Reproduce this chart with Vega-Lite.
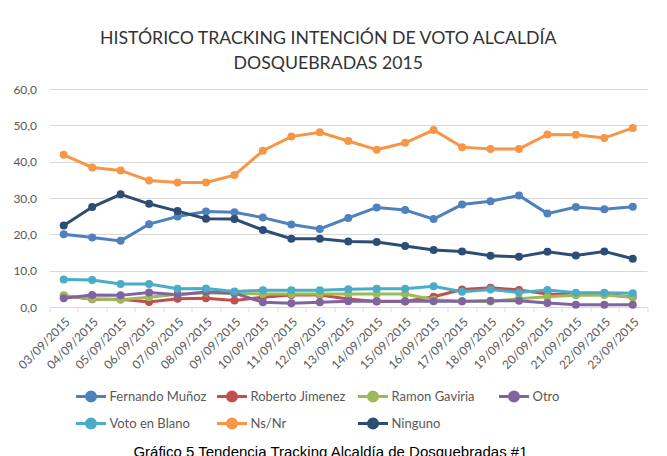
{
  "$schema": "https://vega.github.io/schema/vega-lite/v6.json",
  "padding": {"left": 12.5, "top": 30, "right": 5, "bottom": 0},
  "background": "white",
  "title": {
    "text": "Gráfico 5 Tendencia Tracking Alcaldía de Dosquebradas #1",
    "orient": "bottom",
    "anchor": "middle",
    "font": "Liberation Sans",
    "fontSize": 15,
    "fontWeight": "normal",
    "color": "#000000",
    "offset": 11
  },
  "vconcat": [
    {
      "title": {
        "text": ["HISTÓRICO TRACKING INTENCIÓN DE VOTO ALCALDÍA", "DOSQUEBRADAS 2015"],
        "anchor": "middle",
        "frame": "group",
        "dx": -20,
        "font": "Lato",
        "fontSize": 17.7,
        "fontWeight": "normal",
        "color": "#333333",
        "lineHeight": 25,
        "offset": 10
      },
      "width": 597.5,
      "height": 218,
      "data": {
        "values": [
          {"fecha": "03/09/2015", "serie": "Fernando Muñoz", "valor": 20.0},
          {"fecha": "04/09/2015", "serie": "Fernando Muñoz", "valor": 19.1},
          {"fecha": "05/09/2015", "serie": "Fernando Muñoz", "valor": 18.2},
          {"fecha": "06/09/2015", "serie": "Fernando Muñoz", "valor": 22.8},
          {"fecha": "07/09/2015", "serie": "Fernando Muñoz", "valor": 24.9},
          {"fecha": "08/09/2015", "serie": "Fernando Muñoz", "valor": 26.3},
          {"fecha": "09/09/2015", "serie": "Fernando Muñoz", "valor": 26.1},
          {"fecha": "10/09/2015", "serie": "Fernando Muñoz", "valor": 24.6},
          {"fecha": "11/09/2015", "serie": "Fernando Muñoz", "valor": 22.7},
          {"fecha": "12/09/2015", "serie": "Fernando Muñoz", "valor": 21.5},
          {"fecha": "13/09/2015", "serie": "Fernando Muñoz", "valor": 24.5},
          {"fecha": "14/09/2015", "serie": "Fernando Muñoz", "valor": 27.4},
          {"fecha": "15/09/2015", "serie": "Fernando Muñoz", "valor": 26.7},
          {"fecha": "16/09/2015", "serie": "Fernando Muñoz", "valor": 24.2},
          {"fecha": "17/09/2015", "serie": "Fernando Muñoz", "valor": 28.2},
          {"fecha": "18/09/2015", "serie": "Fernando Muñoz", "valor": 29.1},
          {"fecha": "19/09/2015", "serie": "Fernando Muñoz", "valor": 30.7},
          {"fecha": "20/09/2015", "serie": "Fernando Muñoz", "valor": 25.7},
          {"fecha": "21/09/2015", "serie": "Fernando Muñoz", "valor": 27.5},
          {"fecha": "22/09/2015", "serie": "Fernando Muñoz", "valor": 26.9},
          {"fecha": "23/09/2015", "serie": "Fernando Muñoz", "valor": 27.6},
          {"fecha": "03/09/2015", "serie": "Roberto Jimenez", "valor": 3.1},
          {"fecha": "04/09/2015", "serie": "Roberto Jimenez", "valor": 2.1},
          {"fecha": "05/09/2015", "serie": "Roberto Jimenez", "valor": 2.1},
          {"fecha": "06/09/2015", "serie": "Roberto Jimenez", "valor": 1.4},
          {"fecha": "07/09/2015", "serie": "Roberto Jimenez", "valor": 2.3},
          {"fecha": "08/09/2015", "serie": "Roberto Jimenez", "valor": 2.4},
          {"fecha": "09/09/2015", "serie": "Roberto Jimenez", "valor": 1.8},
          {"fecha": "10/09/2015", "serie": "Roberto Jimenez", "valor": 2.7},
          {"fecha": "11/09/2015", "serie": "Roberto Jimenez", "valor": 3.3},
          {"fecha": "12/09/2015", "serie": "Roberto Jimenez", "valor": 3.3},
          {"fecha": "13/09/2015", "serie": "Roberto Jimenez", "valor": 2.2},
          {"fecha": "14/09/2015", "serie": "Roberto Jimenez", "valor": 1.5},
          {"fecha": "15/09/2015", "serie": "Roberto Jimenez", "valor": 1.5},
          {"fecha": "16/09/2015", "serie": "Roberto Jimenez", "valor": 2.8},
          {"fecha": "17/09/2015", "serie": "Roberto Jimenez", "valor": 4.8},
          {"fecha": "18/09/2015", "serie": "Roberto Jimenez", "valor": 5.3},
          {"fecha": "19/09/2015", "serie": "Roberto Jimenez", "valor": 4.7},
          {"fecha": "20/09/2015", "serie": "Roberto Jimenez", "valor": 3.6},
          {"fecha": "21/09/2015", "serie": "Roberto Jimenez", "valor": 3.4},
          {"fecha": "22/09/2015", "serie": "Roberto Jimenez", "valor": 3.5},
          {"fecha": "23/09/2015", "serie": "Roberto Jimenez", "valor": 2.7},
          {"fecha": "03/09/2015", "serie": "Ramon Gaviria", "valor": 3.2},
          {"fecha": "04/09/2015", "serie": "Ramon Gaviria", "valor": 2.2},
          {"fecha": "05/09/2015", "serie": "Ramon Gaviria", "valor": 2.0},
          {"fecha": "06/09/2015", "serie": "Ramon Gaviria", "valor": 2.7},
          {"fecha": "07/09/2015", "serie": "Ramon Gaviria", "valor": 3.5},
          {"fecha": "08/09/2015", "serie": "Ramon Gaviria", "valor": 3.9},
          {"fecha": "09/09/2015", "serie": "Ramon Gaviria", "valor": 3.7},
          {"fecha": "10/09/2015", "serie": "Ramon Gaviria", "valor": 3.6},
          {"fecha": "11/09/2015", "serie": "Ramon Gaviria", "valor": 3.6},
          {"fecha": "12/09/2015", "serie": "Ramon Gaviria", "valor": 3.6},
          {"fecha": "13/09/2015", "serie": "Ramon Gaviria", "valor": 3.6},
          {"fecha": "14/09/2015", "serie": "Ramon Gaviria", "valor": 3.6},
          {"fecha": "15/09/2015", "serie": "Ramon Gaviria", "valor": 3.6},
          {"fecha": "16/09/2015", "serie": "Ramon Gaviria", "valor": 2.0},
          {"fecha": "17/09/2015", "serie": "Ramon Gaviria", "valor": 1.6},
          {"fecha": "18/09/2015", "serie": "Ramon Gaviria", "valor": 1.5},
          {"fecha": "19/09/2015", "serie": "Ramon Gaviria", "valor": 2.3},
          {"fecha": "20/09/2015", "serie": "Ramon Gaviria", "valor": 2.8},
          {"fecha": "21/09/2015", "serie": "Ramon Gaviria", "valor": 3.2},
          {"fecha": "22/09/2015", "serie": "Ramon Gaviria", "valor": 3.3},
          {"fecha": "23/09/2015", "serie": "Ramon Gaviria", "valor": 2.7},
          {"fecha": "03/09/2015", "serie": "Otro", "valor": 2.4},
          {"fecha": "04/09/2015", "serie": "Otro", "valor": 3.3},
          {"fecha": "05/09/2015", "serie": "Otro", "valor": 3.2},
          {"fecha": "06/09/2015", "serie": "Otro", "valor": 4.0},
          {"fecha": "07/09/2015", "serie": "Otro", "valor": 3.4},
          {"fecha": "08/09/2015", "serie": "Otro", "valor": 4.1},
          {"fecha": "09/09/2015", "serie": "Otro", "valor": 3.8},
          {"fecha": "10/09/2015", "serie": "Otro", "valor": 1.3},
          {"fecha": "11/09/2015", "serie": "Otro", "valor": 1.0},
          {"fecha": "12/09/2015", "serie": "Otro", "valor": 1.3},
          {"fecha": "13/09/2015", "serie": "Otro", "valor": 1.6},
          {"fecha": "14/09/2015", "serie": "Otro", "valor": 1.6},
          {"fecha": "15/09/2015", "serie": "Otro", "valor": 1.6},
          {"fecha": "16/09/2015", "serie": "Otro", "valor": 1.6},
          {"fecha": "17/09/2015", "serie": "Otro", "valor": 1.6},
          {"fecha": "18/09/2015", "serie": "Otro", "valor": 1.7},
          {"fecha": "19/09/2015", "serie": "Otro", "valor": 1.7},
          {"fecha": "20/09/2015", "serie": "Otro", "valor": 1.1},
          {"fecha": "21/09/2015", "serie": "Otro", "valor": 0.6},
          {"fecha": "22/09/2015", "serie": "Otro", "valor": 0.6},
          {"fecha": "23/09/2015", "serie": "Otro", "valor": 0.6},
          {"fecha": "03/09/2015", "serie": "Voto en Blano", "valor": 7.6},
          {"fecha": "04/09/2015", "serie": "Voto en Blano", "valor": 7.4},
          {"fecha": "05/09/2015", "serie": "Voto en Blano", "valor": 6.3},
          {"fecha": "06/09/2015", "serie": "Voto en Blano", "valor": 6.3},
          {"fecha": "07/09/2015", "serie": "Voto en Blano", "valor": 5.0},
          {"fecha": "08/09/2015", "serie": "Voto en Blano", "valor": 5.1},
          {"fecha": "09/09/2015", "serie": "Voto en Blano", "valor": 4.3},
          {"fecha": "10/09/2015", "serie": "Voto en Blano", "valor": 4.6},
          {"fecha": "11/09/2015", "serie": "Voto en Blano", "valor": 4.6},
          {"fecha": "12/09/2015", "serie": "Voto en Blano", "valor": 4.6},
          {"fecha": "13/09/2015", "serie": "Voto en Blano", "valor": 4.9},
          {"fecha": "14/09/2015", "serie": "Voto en Blano", "valor": 5.0},
          {"fecha": "15/09/2015", "serie": "Voto en Blano", "valor": 5.0},
          {"fecha": "16/09/2015", "serie": "Voto en Blano", "valor": 5.7},
          {"fecha": "17/09/2015", "serie": "Voto en Blano", "valor": 4.2},
          {"fecha": "18/09/2015", "serie": "Voto en Blano", "valor": 4.8},
          {"fecha": "19/09/2015", "serie": "Voto en Blano", "valor": 4.0},
          {"fecha": "20/09/2015", "serie": "Voto en Blano", "valor": 4.7},
          {"fecha": "21/09/2015", "serie": "Voto en Blano", "valor": 3.9},
          {"fecha": "22/09/2015", "serie": "Voto en Blano", "valor": 3.9},
          {"fecha": "23/09/2015", "serie": "Voto en Blano", "valor": 3.8},
          {"fecha": "03/09/2015", "serie": "Ns/Nr", "valor": 41.9},
          {"fecha": "04/09/2015", "serie": "Ns/Nr", "valor": 38.4},
          {"fecha": "05/09/2015", "serie": "Ns/Nr", "valor": 37.6},
          {"fecha": "06/09/2015", "serie": "Ns/Nr", "valor": 34.8},
          {"fecha": "07/09/2015", "serie": "Ns/Nr", "valor": 34.3},
          {"fecha": "08/09/2015", "serie": "Ns/Nr", "valor": 34.3},
          {"fecha": "09/09/2015", "serie": "Ns/Nr", "valor": 36.3},
          {"fecha": "10/09/2015", "serie": "Ns/Nr", "valor": 43.0},
          {"fecha": "11/09/2015", "serie": "Ns/Nr", "valor": 46.9},
          {"fecha": "12/09/2015", "serie": "Ns/Nr", "valor": 48.1},
          {"fecha": "13/09/2015", "serie": "Ns/Nr", "valor": 45.7},
          {"fecha": "14/09/2015", "serie": "Ns/Nr", "valor": 43.3},
          {"fecha": "15/09/2015", "serie": "Ns/Nr", "valor": 45.2},
          {"fecha": "16/09/2015", "serie": "Ns/Nr", "valor": 48.7},
          {"fecha": "17/09/2015", "serie": "Ns/Nr", "valor": 44.0},
          {"fecha": "18/09/2015", "serie": "Ns/Nr", "valor": 43.5},
          {"fecha": "19/09/2015", "serie": "Ns/Nr", "valor": 43.5},
          {"fecha": "20/09/2015", "serie": "Ns/Nr", "valor": 47.5},
          {"fecha": "21/09/2015", "serie": "Ns/Nr", "valor": 47.4},
          {"fecha": "22/09/2015", "serie": "Ns/Nr", "valor": 46.5},
          {"fecha": "23/09/2015", "serie": "Ns/Nr", "valor": 49.3},
          {"fecha": "03/09/2015", "serie": "Ninguno", "valor": 22.4},
          {"fecha": "04/09/2015", "serie": "Ninguno", "valor": 27.5},
          {"fecha": "05/09/2015", "serie": "Ninguno", "valor": 31.0},
          {"fecha": "06/09/2015", "serie": "Ninguno", "valor": 28.4},
          {"fecha": "07/09/2015", "serie": "Ninguno", "valor": 26.4},
          {"fecha": "08/09/2015", "serie": "Ninguno", "valor": 24.3},
          {"fecha": "09/09/2015", "serie": "Ninguno", "valor": 24.2},
          {"fecha": "10/09/2015", "serie": "Ninguno", "valor": 21.2},
          {"fecha": "11/09/2015", "serie": "Ninguno", "valor": 18.8},
          {"fecha": "12/09/2015", "serie": "Ninguno", "valor": 18.8},
          {"fecha": "13/09/2015", "serie": "Ninguno", "valor": 18.0},
          {"fecha": "14/09/2015", "serie": "Ninguno", "valor": 17.9},
          {"fecha": "15/09/2015", "serie": "Ninguno", "valor": 16.8},
          {"fecha": "16/09/2015", "serie": "Ninguno", "valor": 15.7},
          {"fecha": "17/09/2015", "serie": "Ninguno", "valor": 15.3},
          {"fecha": "18/09/2015", "serie": "Ninguno", "valor": 14.1},
          {"fecha": "19/09/2015", "serie": "Ninguno", "valor": 13.8},
          {"fecha": "20/09/2015", "serie": "Ninguno", "valor": 15.2},
          {"fecha": "21/09/2015", "serie": "Ninguno", "valor": 14.2},
          {"fecha": "22/09/2015", "serie": "Ninguno", "valor": 15.3},
          {"fecha": "23/09/2015", "serie": "Ninguno", "valor": 13.3}
        ]
      },
      "mark": {"type": "line", "strokeWidth": 3, "point": {"filled": true, "size": 64, "opacity": 1}},
      "encoding": {
        "x": {
          "field": "fecha",
          "type": "nominal",
          "sort": null,
          "bandPosition": 0.5,
          "scale": {"type": "band", "paddingInner": 0, "paddingOuter": 0},
          "axis": {
            "title": null,
            "labelAngle": -45,
            "labelFont": "Lato",
            "labelFontSize": 12,
            "labelColor": "#595959",
            "labelPadding": 4,
            "domainColor": "#D9D9D9",
            "tickColor": "#D9D9D9",
            "tickSize": 5,
            "tickBand": "extent",
            "grid": false
          }
        },
        "y": {
          "field": "valor",
          "type": "quantitative",
          "scale": {"domain": [0, 60], "nice": false, "zero": true},
          "axis": {
            "title": null,
            "values": [0, 10, 20, 30, 40, 50, 60],
            "labelExpr": "replace(format(datum.value, '.1f'), '.', ',')",
            "labelFont": "Lato",
            "labelFontSize": 12,
            "labelColor": "#595959",
            "labelPadding": 13,
            "ticks": false,
            "domain": false,
            "gridColor": "#D9D9D9",
            "gridWidth": 1
          }
        },
        "color": {
          "field": "serie",
          "type": "nominal",
          "sort": null,
          "scale": {
            "domain": ["Fernando Muñoz", "Roberto Jimenez", "Ramon Gaviria", "Otro", "Voto en Blano", "Ns/Nr", "Ninguno"],
            "range": ["#4F81BD", "#C0504D", "#9BBB59", "#8064A2", "#4BACC6", "#F79646", "#2C4D75"]
          },
          "legend": {
            "title": null,
            "orient": "none",
            "legendX": 25,
            "legendY": 291,
            "direction": "horizontal",
            "columns": 4,
            "gridAlign": "all",
            "columnPadding": 4,
            "rowPadding": 0,
            "padding": 0,
            "symbolType": "M-1,0H1M0.3,0A0.3,0.3,0,1,1,-0.3,0A0.3,0.3,0,1,1,0.3,0Z",
            "symbolSize": 900,
            "symbolStrokeWidth": 3,
            "labelFont": "Lato",
            "labelFontSize": 13,
            "labelColor": "#595959",
            "labelOffset": 2,
            "encode": {
              "symbols": {
                "update": {
                  "fill": {"scale": "color", "field": "value"},
                  "stroke": {"scale": "color", "field": "value"},
                  "opacity": {"value": 1}
                }
              }
            }
          }
        }
      }
    }
  ],
  "config": {
    "view": {"stroke": null},
    "font": "Lato"
  }
}
